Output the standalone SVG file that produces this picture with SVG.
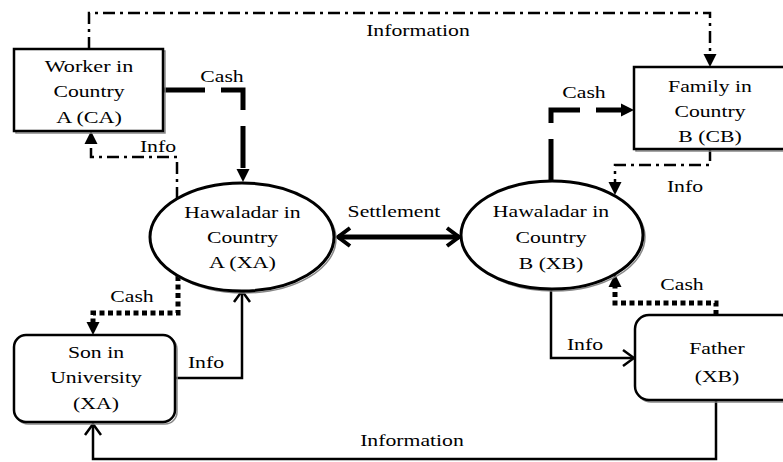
<svg xmlns="http://www.w3.org/2000/svg" width="783" height="462" viewBox="0 0 783 462">
<defs>
<marker id="tri" markerUnits="userSpaceOnUse" viewBox="0 -7 13 14" refX="0" refY="0" markerWidth="13" markerHeight="14" orient="auto">
<path d="M0,-6.5 L13,0 L0,6.5 Z" fill="#000"/>
</marker>
<marker id="chev" markerUnits="userSpaceOnUse" viewBox="-14 -10 16 20" refX="0" refY="0" markerWidth="16" markerHeight="20" orient="auto">
<path d="M-11,-8 L0,0 L-11,8" fill="none" stroke="#000" stroke-width="2.5"/>
</marker>
<marker id="chevB" markerUnits="userSpaceOnUse" viewBox="-16 -12 19 24" refX="0" refY="0" markerWidth="19" markerHeight="24" orient="auto-start-reverse">
<path d="M-12,-9 L0,0 L-12,9" fill="none" stroke="#000" stroke-width="4"/>
</marker>
</defs>

<g id="connectors" fill="none" stroke="#000">
<g stroke-width="2.5" stroke-dasharray="12 5 3 5" marker-end="url(#tri)">
<path d="M89 49 V13 H710 V54"/>
<path d="M177 199 V157 H91 V144"/>
<path d="M710 149 V165 H615 V182"/>
</g>
<g stroke-width="5" stroke-dasharray="42 16" marker-end="url(#tri)">
<path d="M163 90 H243 V169"/>
<path d="M551 181 V110 H621"/>
</g>
<g stroke-width="5" stroke-dasharray="5 3.5" marker-end="url(#tri)">
<path d="M178 276 V313 H93 V322"/>
<path d="M716 315 V303 H615 V287"/>
</g>
<path stroke-width="5" d="M338 237 H459" marker-start="url(#chevB)" marker-end="url(#chevB)"/>
<g stroke-width="2.5" marker-end="url(#chev)">
<path d="M175 378 H242 V291"/>
<path d="M551 289 V358 H634"/>
<path d="M716 400 V459 H93 V424"/>
</g>
</g>

<g font-family="Liberation Serif, Times New Roman, serif" font-size="17" text-anchor="middle" fill="#000">
<g id="worker">
<rect x="16" y="51" width="149" height="82" fill="none" stroke="#888" stroke-width="1.5"/>
<rect x="14" y="49" width="149" height="82" fill="#fff" stroke="#000" stroke-width="2.5"/>
<text x="89" y="72" textLength="88.6" lengthAdjust="spacingAndGlyphs">Worker in</text>
<text x="89" y="97" textLength="71.1" lengthAdjust="spacingAndGlyphs">Country</text>
<text x="89" y="123" textLength="65.7" lengthAdjust="spacingAndGlyphs">A (CA)</text>
</g>
<g id="family">
<rect x="636" y="69" width="160" height="82" fill="none" stroke="#888" stroke-width="1.5"/>
<rect x="634" y="67" width="160" height="82" fill="#fff" stroke="#000" stroke-width="2.5"/>
<text x="710" y="92" textLength="83.8" lengthAdjust="spacingAndGlyphs">Family in</text>
<text x="710" y="117" textLength="71.1" lengthAdjust="spacingAndGlyphs">Country</text>
<text x="710" y="142" textLength="63.3" lengthAdjust="spacingAndGlyphs">B (CB)</text>
</g>
<g id="hawaladarA">
<ellipse cx="244" cy="239" rx="92" ry="54" fill="none" stroke="#888" stroke-width="1.5"/>
<ellipse cx="242" cy="237" rx="92" ry="54" fill="#fff" stroke="#000" stroke-width="3"/>
<text x="242.5" y="218" textLength="116.3" lengthAdjust="spacingAndGlyphs">Hawaladar in</text>
<text x="242.5" y="243" textLength="71.1" lengthAdjust="spacingAndGlyphs">Country</text>
<text x="242.5" y="268" textLength="66.9" lengthAdjust="spacingAndGlyphs">A (XA)</text>
</g>
<g id="hawaladarB">
<ellipse cx="554" cy="237" rx="91" ry="54" fill="none" stroke="#888" stroke-width="1.5"/>
<ellipse cx="552" cy="235" rx="91" ry="54" fill="#fff" stroke="#000" stroke-width="3"/>
<text x="551" y="217" textLength="116.3" lengthAdjust="spacingAndGlyphs">Hawaladar in</text>
<text x="551" y="243" textLength="71.1" lengthAdjust="spacingAndGlyphs">Country</text>
<text x="551" y="269" textLength="64.5" lengthAdjust="spacingAndGlyphs">B (XB)</text>
</g>
<g id="son">
<rect x="16" y="337" width="161" height="87" rx="12" fill="none" stroke="#888" stroke-width="1.5"/>
<rect x="14" y="335" width="161" height="87" rx="12" fill="#fff" stroke="#000" stroke-width="2.5"/>
<text x="96" y="358" textLength="56.1" lengthAdjust="spacingAndGlyphs">Son in</text>
<text x="96" y="383" textLength="91.6" lengthAdjust="spacingAndGlyphs">University</text>
<text x="96" y="409" textLength="45.8" lengthAdjust="spacingAndGlyphs">(XA)</text>
</g>
<g id="father">
<rect x="637" y="317" width="160" height="85" rx="14" fill="none" stroke="#888" stroke-width="1.5"/>
<rect x="635" y="315" width="160" height="85" rx="14" fill="#fff" stroke="#000" stroke-width="2.5"/>
<text x="717" y="354" textLength="55.4" lengthAdjust="spacingAndGlyphs">Father</text>
<text x="717" y="382" textLength="44.6" lengthAdjust="spacingAndGlyphs">(XB)</text>
</g>
<g id="labels">
<text x="418" y="36" textLength="103.7" lengthAdjust="spacingAndGlyphs">Information</text>
<text x="222" y="82" textLength="43.4" lengthAdjust="spacingAndGlyphs">Cash</text>
<text x="158" y="152" textLength="36.2" lengthAdjust="spacingAndGlyphs">Info</text>
<text x="394" y="217" textLength="92.8" lengthAdjust="spacingAndGlyphs">Settlement</text>
<text x="584" y="98" textLength="43.4" lengthAdjust="spacingAndGlyphs">Cash</text>
<text x="685" y="192" textLength="36.2" lengthAdjust="spacingAndGlyphs">Info</text>
<text x="132" y="302" textLength="43.4" lengthAdjust="spacingAndGlyphs">Cash</text>
<text x="206" y="368" textLength="36.2" lengthAdjust="spacingAndGlyphs">Info</text>
<text x="682" y="290" textLength="43.4" lengthAdjust="spacingAndGlyphs">Cash</text>
<text x="585" y="350" textLength="36.2" lengthAdjust="spacingAndGlyphs">Info</text>
<text x="412" y="446" textLength="103.7" lengthAdjust="spacingAndGlyphs">Information</text>
</g>
</g>
</svg>
